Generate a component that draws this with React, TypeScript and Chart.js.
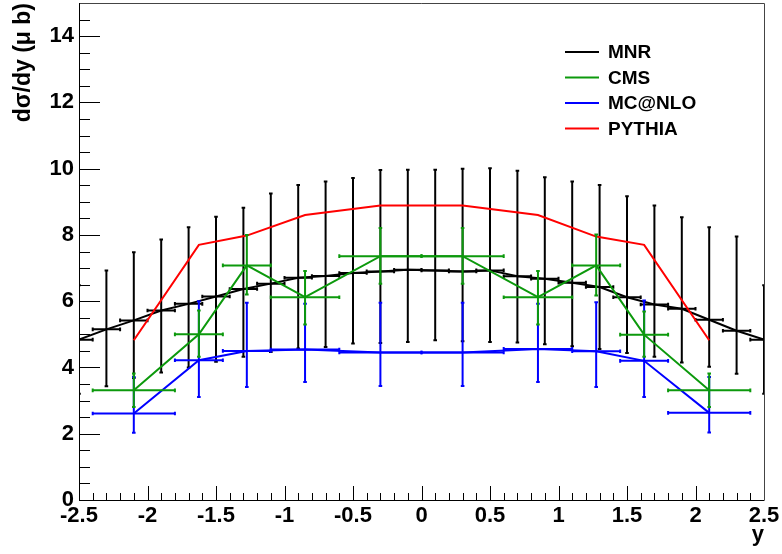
import React, { useEffect, useRef } from 'react';
import { Chart, registerables } from 'chart.js';

Chart.register(...registerables);

// ---------- data ----------
const mnrX = [-2.5, -2.3, -2.1, -1.9, -1.7, -1.5, -1.3, -1.1, -0.9, -0.7, -0.5, -0.3, -0.1,
  0.1, 0.3, 0.5, 0.7, 0.9, 1.1, 1.3, 1.5, 1.7, 1.9, 2.1, 2.3, 2.5];
const mnrY = [4.84, 5.15, 5.42, 5.72, 5.92, 6.14, 6.37, 6.53, 6.71, 6.76, 6.85, 6.9, 6.95,
  6.93, 6.9, 6.93, 6.75, 6.68, 6.56, 6.43, 6.12, 5.9, 5.77, 5.44, 5.11, 4.84];
const mnrHi = [6.48, 6.93, 7.48, 7.86, 8.23, 8.55, 8.82, 9.25, 9.51, 9.61, 9.72, 9.96, 9.97,
  9.97, 10.0, 10.01, 9.94, 9.74, 9.61, 9.51, 9.17, 8.89, 8.53, 8.23, 7.95, 6.48];
const mnrLo = [3.21, 3.43, 3.68, 3.85, 4.0, 4.17, 4.32, 4.47, 4.57, 4.62, 4.72, 4.74, 4.77,
  4.82, 4.79, 4.77, 4.75, 4.7, 4.64, 4.56, 4.44, 4.32, 4.15, 4.02, 3.81, 3.21];
const mnrXLo = [-2.6, -2.4, -2.2, -2.0, -1.8, -1.6, -1.4, -1.2, -1.0, -0.8, -0.6, -0.4, -0.2,
  0.0, 0.2, 0.4, 0.6, 0.8, 1.0, 1.2, 1.4, 1.6, 1.8, 2.0, 2.2, 2.4];
const mnrXHi = [-2.4, -2.2, -2.0, -1.8, -1.6, -1.4, -1.2, -1.0, -0.8, -0.6, -0.4, -0.2, 0.0,
  0.2, 0.4, 0.6, 0.8, 1.0, 1.2, 1.4, 1.6, 1.8, 2.0, 2.2, 2.4, 2.6];

const binX = [-2.1, -1.625, -1.275, -0.85, -0.3, 0.3, 0.85, 1.275, 1.625, 2.1];
const binXLo = [-2.4, -1.8, -1.45, -1.1, -0.6, 0.0, 0.6, 1.1, 1.45, 1.8];
const binXHi = [-1.8, -1.45, -1.1, -0.6, 0.0, 0.6, 1.1, 1.45, 1.8, 2.4];

const cmsY = [3.31, 5.0, 7.08, 6.12, 7.36, 7.36, 6.12, 7.08, 4.99, 3.31];
const cmsHi = [3.82, 5.72, 8.0, 6.91, 8.21, 8.21, 6.91, 8.01, 5.69, 3.82];
const cmsLo = [2.81, 4.32, 6.2, 5.3, 6.53, 6.53, 5.3, 6.17, 4.32, 2.81];

const mcY = [2.61, 4.22, 4.5, 4.54, 4.45, 4.45, 4.56, 4.49, 4.2, 2.63];
const mcHi = [3.71, 6.0, 5.95, 5.92, 5.95, 5.95, 5.92, 5.97, 6.02, 3.71];
const mcLo = [2.03, 3.11, 3.41, 3.56, 3.44, 3.44, 3.56, 3.41, 3.11, 2.04];

const pythiaY = [4.82, 7.7, 7.98, 8.6, 8.89, 8.89, 8.6, 7.95, 7.7, 4.82];

const legendOrder = ['MNR', 'CMS', 'MC@NLO', 'PYTHIA'];
const xTickValues = [-2.5, -2, -1.5, -1, -0.5, 0, 0.5, 1, 1.5, 2, 2.5];
const yTickValues = [0, 2, 4, 6, 8, 10, 12, 14];

const GREEN = '#0c990c';
const FONT = '"Liberation Sans", Arial, Helvetica, sans-serif';

function pts(xs: number[], ys: number[]) {
  return xs.map((x, i) => ({ x, y: ys[i] }));
}

const errorBarPlugin = {
  id: 'errorBars',
  afterDatasetDraw(chart: any, args: any) {
    const ds = chart.data.datasets[args.index];
    if (!ds.errs) return;
    const { ctx, chartArea } = chart;
    const xs = chart.scales.x;
    const ys = chart.scales.y;
    const e = ds.errs;
    ctx.save();
    ctx.beginPath();
    ctx.rect(chartArea.left, chartArea.top, chartArea.right - chartArea.left, chartArea.bottom - chartArea.top);
    ctx.clip();
    ctx.strokeStyle = ds.borderColor;
    ctx.lineWidth = 2;
    const cap = 1.8;
    for (let i = 0; i < e.x.length; i++) {
      const px = xs.getPixelForValue(e.x[i]);
      const py = ys.getPixelForValue(e.y[i]);
      const x0 = xs.getPixelForValue(e.xlo[i]);
      const x1 = xs.getPixelForValue(e.xhi[i]);
      const y0 = ys.getPixelForValue(e.ylo[i]);
      const y1 = ys.getPixelForValue(e.yhi[i]);
      ctx.beginPath();
      ctx.moveTo(x0, py); ctx.lineTo(x1, py);
      ctx.moveTo(px, y0); ctx.lineTo(px, y1);
      ctx.moveTo(x0, py - cap); ctx.lineTo(x0, py + cap);
      ctx.moveTo(x1, py - cap); ctx.lineTo(x1, py + cap);
      ctx.moveTo(px - cap, y0); ctx.lineTo(px + cap, y0);
      ctx.moveTo(px - cap, y1); ctx.lineTo(px + cap, y1);
      ctx.stroke();
    }
    ctx.restore();
  },
};

const frameTicksPlugin = {
  id: 'frameTicks',
  afterDraw(chart: any) {
    const { ctx, chartArea } = chart;
    const xs = chart.scales.x;
    const ys = chart.scales.y;
    const { left, right, top, bottom } = chartArea;
    ctx.save();
    ctx.strokeStyle = '#000';
    ctx.lineWidth = 1;
    ctx.beginPath();
    for (let k = -25; k <= 25; k++) {
      const v = k / 10;
      const px = Math.round(xs.getPixelForValue(v)) + 0.5;
      const major = k % 5 === 0;
      const len = major ? 14 : 7;
      ctx.moveTo(px, bottom);
      ctx.lineTo(px, bottom - len);
    }
    for (let k = 0; k <= 30; k++) {
      const v = k / 2;
      const py = Math.round(ys.getPixelForValue(v)) + 0.5;
      const major = k % 4 === 0;
      const len = major ? 21 : 11;
      ctx.moveTo(left, py);
      ctx.lineTo(left + len, py);
    }
    ctx.stroke();
    ctx.strokeStyle = '#444';
    ctx.beginPath();
    ctx.moveTo(left, top + 0.5); ctx.lineTo(right + 0.5, top + 0.5); ctx.lineTo(right + 0.5, bottom);
    ctx.stroke();
    ctx.strokeStyle = '#000';
    ctx.beginPath();
    ctx.moveTo(left + 0.5, top); ctx.lineTo(left + 0.5, bottom + 0.5); ctx.lineTo(right + 0.5, bottom + 0.5);
    ctx.stroke();

    // legend
    const lx0 = 565, lx1 = 599, tx = 608;
    const rowY = [52, 77.5, 103, 128.5];
    ctx.font = 'bold 19px ' + FONT;
    ctx.textBaseline = 'middle';
    ctx.textAlign = 'left';
    legendOrder.forEach((name, i) => {
      const ds = chart.data.datasets.find((d: any) => d.label === name);
      if (!ds) return;
      ctx.strokeStyle = ds.borderColor;
      ctx.lineWidth = 2;
      ctx.beginPath();
      ctx.moveTo(lx0, rowY[i]);
      ctx.lineTo(lx1, rowY[i]);
      ctx.stroke();
      ctx.fillStyle = '#000';
      ctx.fillText(name, tx, rowY[i] + 1);
    });
    ctx.restore();
  },
};

export default function App() {
  const ref = useRef<HTMLCanvasElement>(null);
  useEffect(() => {
    document.body.style.margin = '0';
    const canvas = ref.current;
    if (!canvas) return;
    const chart = new Chart(canvas, {
      type: 'line',
      data: {
        datasets: [
          {
            label: 'MNR',
            data: pts(mnrX, mnrY),
            borderColor: '#000000',
            backgroundColor: '#000000',
            borderWidth: 2,
            pointRadius: 0,
            tension: 0,
            order: 3,
            errs: { x: mnrX, y: mnrY, xlo: mnrXLo, xhi: mnrXHi, ylo: mnrLo, yhi: mnrHi },
          } as any,
          {
            label: 'PYTHIA',
            data: pts(binX, pythiaY),
            borderColor: '#ff0000',
            backgroundColor: '#ff0000',
            borderWidth: 2,
            pointRadius: 0,
            tension: 0,
            order: 2,
          },
          {
            label: 'MC@NLO',
            data: pts(binX, mcY),
            borderColor: '#0000ff',
            backgroundColor: '#0000ff',
            borderWidth: 2,
            pointRadius: 0,
            tension: 0,
            order: 1,
            errs: { x: binX, y: mcY, xlo: binXLo, xhi: binXHi, ylo: mcLo, yhi: mcHi },
          } as any,
          {
            label: 'CMS',
            data: pts(binX, cmsY),
            borderColor: GREEN,
            backgroundColor: GREEN,
            borderWidth: 2,
            pointRadius: 0,
            tension: 0,
            order: 0,
            errs: { x: binX, y: cmsY, xlo: binXLo, xhi: binXHi, ylo: cmsLo, yhi: cmsHi },
          } as any,
        ],
      },
      options: {
        responsive: false,
        animation: false,
        devicePixelRatio: 1,
        layout: { padding: { top: 3, right: 18, left: 0, bottom: 0 } },
        plugins: {
          legend: { display: false },
          tooltip: { enabled: false },
        },
        scales: {
          x: {
            type: 'linear',
            min: -2.5,
            max: 2.5,
            afterBuildTicks: (scale: any) => {
              scale.ticks = xTickValues.map((v) => ({ value: v }));
            },
            afterFit: (scale: any) => {
              scale.height = 54;
              scale.paddingLeft = 0;
              scale.paddingRight = 0;
            },
            grid: { display: false, drawTicks: false },
            border: { display: false },
            ticks: {
              autoSkip: false,
              maxRotation: 0,
              padding: 3,
              color: '#000',
              font: { family: FONT, size: 22, weight: 'bold' },
              callback: (v: any) => String(v),
            },
            title: {
              display: true,
              text: 'y',
              align: 'end',
              color: '#000',
              font: { family: FONT, size: 22, weight: 'bold' },
              padding: { top: 0, bottom: 6 },
            },
          },
          y: {
            type: 'linear',
            min: 0,
            max: 15,
            afterBuildTicks: (scale: any) => {
              scale.ticks = yTickValues.map((v) => ({ value: v }));
            },
            afterFit: (scale: any) => {
              scale.width = 79;
              scale.paddingTop = 0;
              scale.paddingBottom = 0;
            },
            grid: { display: false, drawTicks: false },
            border: { display: false },
            ticks: {
              autoSkip: false,
              padding: 5,
              color: '#000',
              font: { family: FONT, size: 22, weight: 'bold' },
              callback: (v: any) => String(v),
            },
            title: {
              display: true,
              text: 'dσ/dy (μ b)',
              align: 'end',
              color: '#000',
              font: { family: FONT, size: 23, weight: 'bold' },
              padding: { top: 10, bottom: 0 },
            },
          },
        },
      },
      plugins: [errorBarPlugin, frameTicksPlugin],
    } as any);
    return () => chart.destroy();
  }, []);
  return (
    <div style={{ width: 782, height: 554 }}>
      <canvas ref={ref} width={782} height={554} style={{ display: 'block' }} />
    </div>
  );
}
